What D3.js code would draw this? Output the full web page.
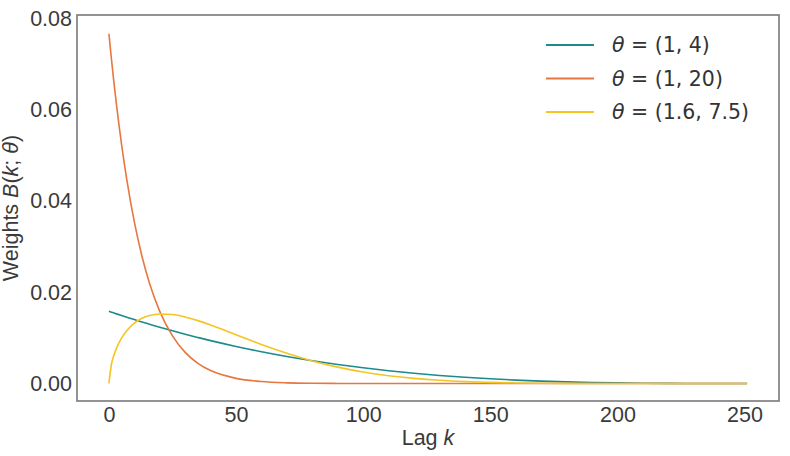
<!DOCTYPE html>
<html>
<head>
<meta charset="utf-8">
<script src="https://cdn.jsdelivr.net/npm/d3@7"></script>
<style>
  body { margin: 0; background: #fff; }
  svg { display: block; }
</style>
</head>
<body>
<div class="lag-chart"></div>
<script>

var lags = [0, 1, 2, 3, 5, 7, 10, 13, 16, 20, 25, 30, 35, 40, 50, 60, 70, 80, 90, 100,
  110, 120, 130, 140, 150, 160, 170, 180, 190, 200, 210, 220, 230, 240, 251];

// theta = (1, 4)
var wTeal = [0.01581, 0.01562, 0.01544, 0.01525, 0.01488, 0.01452, 0.01400, 0.01348, 0.01298,
  0.01232, 0.01154, 0.01079, 0.01008, 0.00939, 0.00812, 0.00697, 0.00593, 0.00500, 0.00417,
  0.00344, 0.00280, 0.00225, 0.00177, 0.00137, 0.00103, 0.00075, 0.00053, 0.00036, 0.00023,
  0.00013, 0.00007, 0.00003, 0.00001, 0.0000013, 0];

// theta = (1, 20)
var wOrange = [0.07659, 0.07100, 0.06579, 0.06095, 0.05226, 0.04475, 0.03538, 0.02788, 0.02191,
  0.01581, 0.01043, 0.00682, 0.00442, 0.00283, 0.00113, 0.00043, 0.00015, 0.00005, 0.000017,
  0.000005, 0, 0, 0, 0, 0, 0, 0, 0, 0, 0, 0, 0, 0, 0, 0];

// theta = (1.6, 7.5)
var wYellow = [0, 0.00422, 0.00623, 0.00774, 0.00998, 0.01158, 0.01323, 0.01428, 0.01489,
  0.01523, 0.01510, 0.01457, 0.01377, 0.01281, 0.01069, 0.00855, 0.00662, 0.00495, 0.00359,
  0.00252, 0.00171, 0.00112, 0.00070, 0.00042, 0.00024, 0.00012, 0.00006, 0.00003, 0.00001,
  0.000003, 0, 0, 0, 0, 0];

var seriesNames = ["(1, 4)", "(1, 20)", "(1.6, 7.5)"];
var seriesColors = ["#1b8b8b", "#e8763e", "#f5c422"];
var xTicks = [0, 50, 100, 150, 200, 250];
var yTicks = [0, 0.02, 0.04, 0.06, 0.08];

var series = [wTeal, wOrange, wYellow].map(function(w, i) {
  return {
    name: seriesNames[i],
    color: seriesColors[i],
    values: lags.map(function(k, j) { return {k: k, w: w[j]}; })
  };
});

var margin = {top: 15, right: 11, bottom: 55, left: 77},
  width = 790 - margin.left - margin.right,
  height = 456 - margin.top - margin.bottom;

var svg = d3.select(".lag-chart")
  .append("svg")
    .attr("width", width + margin.left + margin.right)
    .attr("height", height + margin.top + margin.bottom)
  .append("g")
    .attr("transform", "translate(" + margin.left + "," + margin.top + ")");

// matplotlib style 5% padding
var kMax = d3.max(lags);
var wMax = d3.max(wOrange);
var x = d3.scaleLinear()
  .domain([-kMax * 0.05, kMax * 1.05])
  .range([0, width]);
var y = d3.scaleLinear()
  .domain([-wMax * 0.05, 0.0807])
  .range([height, 0]);

var tickFont = "'Liberation Sans', Arial, sans-serif";
var textColor = "#3a3a3a";

svg.append("g")
  .attr("transform", "translate(0," + height + ")")
  .call(d3.axisBottom(x).tickValues(xTicks).tickSize(0).tickPadding(6).tickFormat(d3.format("d")))
  .call(function(g) {
    g.select(".domain").remove();
    g.selectAll("text").attr("font-size", 21.5).attr("font-family", tickFont).attr("fill", textColor);
  });

svg.append("g")
  .call(d3.axisLeft(y).tickValues(yTicks).tickSize(0).tickPadding(5).tickFormat(d3.format(".2f")))
  .call(function(g) {
    g.select(".domain").remove();
    g.selectAll("text").attr("font-size", 21.5).attr("font-family", tickFont).attr("fill", textColor);
  });

var line = d3.line()
  .x(function(d) { return x(d.k); })
  .y(function(d) { return y(d.w); })
  .curve(d3.curveMonotoneX);

svg.selectAll(".curve")
  .data(series)
  .enter()
  .append("path")
    .attr("class", "curve")
    .attr("fill", "none")
    .attr("stroke", function(d) { return d.color; })
    .attr("stroke-width", 1.6)
    .attr("d", function(d) { return line(d.values); });

// frame
svg.append("rect")
  .attr("width", width)
  .attr("height", height)
  .attr("fill", "none")
  .attr("stroke", "#808080")
  .attr("stroke-width", 1.7);

// legend
var legend = svg.selectAll(".legend")
  .data(series)
  .enter()
  .append("g")
    .attr("class", "legend")
    .attr("transform", function(d, i) { return "translate(" + (546 - margin.left) + "," + (30 + i * 33.5) + ")"; });

legend.append("line")
  .attr("x1", 0).attr("x2", 48)
  .attr("stroke", function(d) { return d.color; })
  .attr("stroke-width", 1.8);

var legendText = legend.append("text")
  .attr("x", 66)
  .attr("dy", "0.36em")
  .attr("font-family", "'DejaVu Sans', sans-serif")
  .attr("font-size", 20.5)
  .attr("fill", "#333");
legendText.append("tspan").attr("font-style", "italic").text("θ");
legendText.append("tspan").text(function(d) { return " = " + d.name; });

// axis labels
var xLabel = svg.append("text")
  .attr("x", width / 2)
  .attr("y", height + 44)
  .attr("text-anchor", "middle")
  .attr("font-family", tickFont)
  .attr("font-size", 21.5)
  .attr("fill", textColor);
xLabel.append("tspan").text("Lag ");
xLabel.append("tspan").attr("font-style", "italic").text("k");

var yLabel = svg.append("text")
  .attr("transform", "translate(" + (-59) + "," + (height / 2) + ") rotate(-90)")
  .attr("text-anchor", "middle")
  .attr("font-family", tickFont)
  .attr("font-size", 21.5)
  .attr("fill", textColor);
yLabel.append("tspan").text("Weights ");
yLabel.append("tspan").attr("font-style", "italic").text("B");
yLabel.append("tspan").text("(");
yLabel.append("tspan").attr("font-style", "italic").text("k");
yLabel.append("tspan").text("; ");
yLabel.append("tspan").attr("font-style", "italic").text("θ");
yLabel.append("tspan").text(")");

</script>
</body>
</html>
